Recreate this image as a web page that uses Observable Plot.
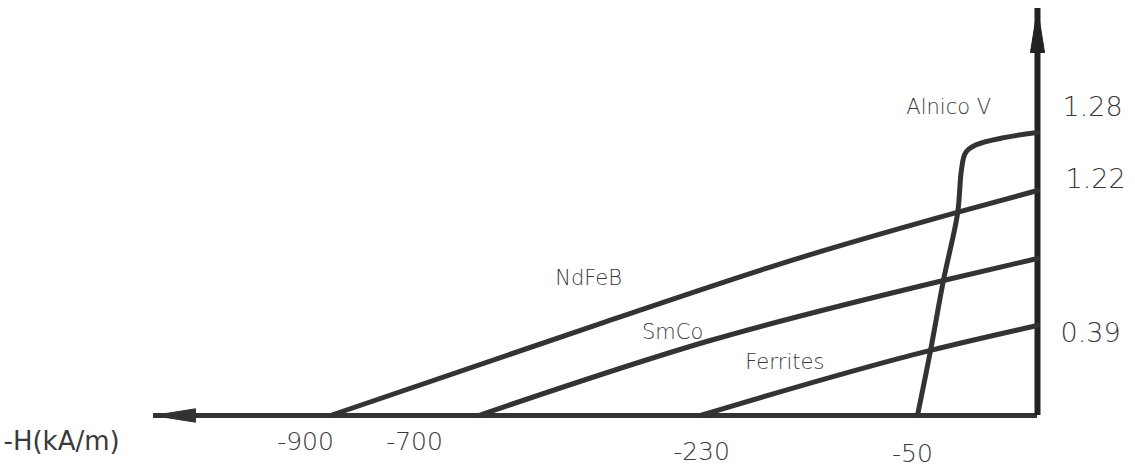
<!DOCTYPE html>
<html><head><meta charset="utf-8">
<script src="https://cdn.jsdelivr.net/npm/d3@7"></script>
<script src="https://cdn.jsdelivr.net/npm/@observablehq/plot@0.6"></script>
<style>
html,body{margin:0;padding:0;background:#fff;}
#chart svg{display:block;background:#fff}
</style></head><body><div id="chart"></div>
<script>
// ---- data ----
// demagnetisation curves: H (kA/m) and B (T)
const ndfebH = [-900, -442, -147, -35, 0];
const ndfebB = [0, 0.408, 1.003, 1.146, 1.22];
const smcoH = [-700, -222, -39.2, 0];
const smcoB = [0, 0.325, 0.80, 1.0];
const ferriteH = [-230, -44.6, 0];
const ferriteB = [0, 0.282, 0.39];
const alnicoH = [-50, -44.6, -39.2, -33.3, -31.7, -30, -25.8, -13.3, 0];
const alnicoB = [0, 0.28, 0.80, 1.146, 1.241, 1.259, 1.267, 1.275, 1.28];
const hTicks = [-900, -700, -230, -50];
const hTickLabels = ["-900", "-700", "-230", "-50"];
const bTicks = [1.28, 1.22, 0.39];
const bTickLabels = ["1.28", "1.22", "0.39"];
const axisTitle = "-H(kA/m)";
const curveLabels = ["NdFeB", "SmCo", "Ferrites", "Alnico V"];
const curveLabelH = [-467, -289, -160, -37];
const curveLabelB = [0.818, 0.36, 0.23, 1.306];
const hExtent = -1140;   // end of the -H axis arrow
const bExtent = 1.41;    // end of the B axis arrow

// ---- styles / layout ----
const ink = "#333333";
const textInk = "#3a3a3a";
const font = "DejaVu Sans";
const hTickDx = [-25, -64, 1, -5];
const hTickDy = [26, 26, 36, 38];
const bTickDx = [25, 28, 23];
const bTickDy = [-25, -11, 8];
// schematic (non-uniform) axes: piecewise-linear warps
const xWarp = d3.scaleLinear().domain([hExtent, -900, -700, -230, -50, 0]).range([153, 330, 478, 700, 917, 1037]);
const yWarp = d3.scaleLinear().domain([0, 0.39, 1.0, 1.22, 1.28, bExtent]).range([415, 325, 258, 190, 132, 8]);

// ---- tables ----
const toRows = (name, hs, bs) => hs.map((h, i) => ({m: name, H: h, B: bs[i]}));
const curves = [
  ...toRows("NdFeB", ndfebH, ndfebB),
  ...toRows("SmCo", smcoH, smcoB),
  ...toRows("Ferrites", ferriteH, ferriteB)
];
const alnico = toRows("Alnico V", alnicoH, alnicoB);
const labels = curveLabels.map((t, i) => ({t, H: curveLabelH[i], B: curveLabelB[i]}));

const arrowHead = {
  draw(ctx, size) {
    const r = Math.sqrt(size / Math.PI);
    ctx.moveTo(0, 0);
    ctx.lineTo(-0.32 * r, 2 * r);
    ctx.lineTo(0.32 * r, 2 * r);
    ctx.closePath();
  }
};

const marks = [
  Plot.ruleY([0], {x1: hExtent, x2: 0, stroke: ink, strokeWidth: 5}),
  Plot.ruleX([0], {y1: 0, y2: bExtent, stroke: "#222", strokeWidth: 6}),
  Plot.dot([{H: hExtent, B: 0}], {x: "H", y: "B", symbol: arrowHead, r: 21, rotate: -90, fill: ink, stroke: ink, strokeWidth: 1}),
  Plot.dot([{H: 0, B: bExtent}], {x: "H", y: "B", symbol: arrowHead, r: 22, fill: "#222", stroke: "#222", strokeWidth: 1}),
  Plot.line(curves, {x: "H", y: "B", z: "m", curve: "monotone-x", stroke: ink, strokeWidth: 5, strokeLinecap: "round"}),
  Plot.line(alnico, {x: "H", y: "B", curve: "catmull-rom", stroke: ink, strokeWidth: 5, strokeLinecap: "round"}),
  Plot.text(labels, {x: "H", y: "B", text: "t", fontSize: 21, fontFamily: font, fill: textInk, letterSpacing: 3.5, fontWeight: 300}),
  Plot.text([axisTitle], {x: hExtent, y: 0, text: d => d, dx: -150, dy: 26, textAnchor: "start", fontSize: 26, fontFamily: font, fill: textInk, letterSpacing: 7}),
  ...hTicks.map((h, i) => Plot.text([hTickLabels[i]], {x: h, y: 0, text: d => d, dx: hTickDx[i], dy: hTickDy[i], fontSize: 25, fontFamily: font, fill: textInk, fontWeight: 300})),
  ...bTicks.map((b, i) => Plot.text([bTickLabels[i]], {x: 0, y: b, text: d => d, dx: bTickDx[i], dy: bTickDy[i], textAnchor: "start", fontSize: 27, fontFamily: font, fill: textInk, fontWeight: 300}))
];

const chart = Plot.plot({
  width: 1135,
  height: 466,
  margin: 0,
  style: {background: "#fff"},
  x: {axis: null, type: "linear", transform: xWarp, domain: [0, 1135], range: [0, 1135]},
  y: {axis: null, type: "linear", transform: yWarp, domain: [0, 466], range: [0, 466]},
  marks
});
document.getElementById("chart").appendChild(chart);
</script>
</body></html>
